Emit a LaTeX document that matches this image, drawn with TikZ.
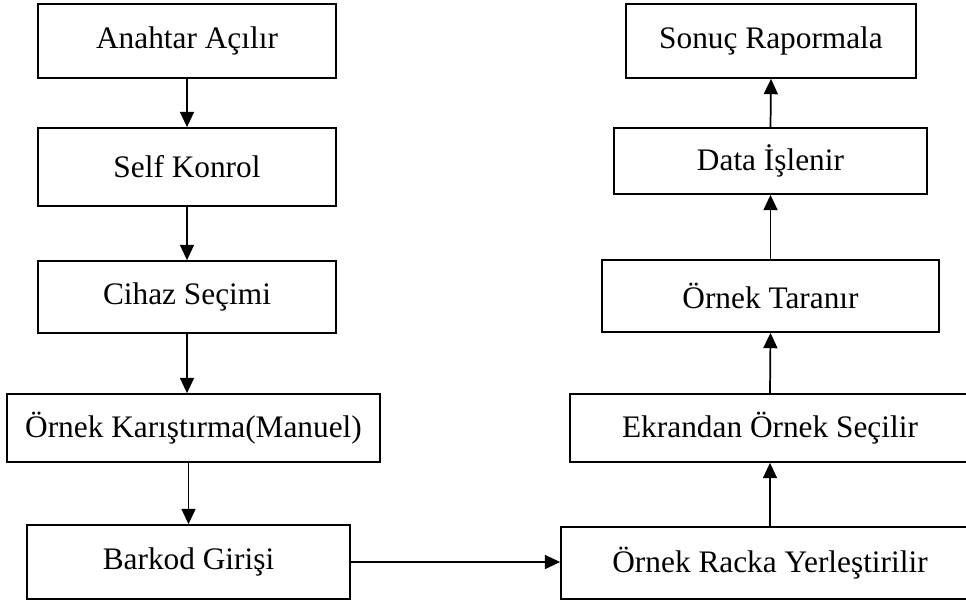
\documentclass[tikz,border=0pt]{standalone}
\usepackage{fontspec}
\setmainfont{Liberation Serif}
\usetikzlibrary{arrows.meta}
\begin{document}
\begin{tikzpicture}[x=0.75pt,y=-0.75pt,
  box/.style={draw=black,line width=1.3pt,inner sep=0pt,
    font=\fontsize{23.5}{28}\selectfont,text=black},
  conn/.style={line width=1.3pt,-{Triangle[length=11.5pt,width=10.5pt]}}]
\useasboundingbox (0,0) rectangle (966,601);
\clip (0,0) rectangle (966,601);
% left column
\node[box,minimum width=223.5pt,minimum height=55.5pt] (b1) at (187,41) {Anahtar Açılır};
\node[box,minimum width=223.5pt,minimum height=58.5pt] (b2) at (187,167) {Self Konrol};
\node[box,minimum width=223.5pt,minimum height=54pt] (b3) at (187,297) {Cihaz Seçimi};
\node[box,minimum width=279.75pt,minimum height=51pt] (b4) at (193.5,428) {Örnek Karıştırma(Manuel)};
\node[box,minimum width=242.25pt,minimum height=55.5pt] (b5) at (188.5,562) {Barkod Girişi};
% right column
\node[box,minimum width=217.5pt,minimum height=55.5pt] (r1) at (771,41) {Sonuç Rapormala};
\node[box,minimum width=234.75pt,minimum height=49.5pt] (r2) at (770.5,161) {Data İşlenir};
\node[box,minimum width=252.75pt,minimum height=54pt] (r3) at (770.5,296) {Örnek Taranır};
\node[box,minimum width=300pt,minimum height=51pt] (r4) at (770,428) {Ekrandan Örnek Seçilir};
\node[box,minimum width=313.5pt,minimum height=54pt] (r5) at (770,563) {Örnek Racka Yerleştirilir};
% connectors
\draw[conn] (b1.south) -- (b2.north);
\draw[conn] (b2.south) -- (b3.north);
\draw[conn] (b3.south) -- (b3.south |- b4.north);
\draw[conn] (b5.north |- b4.south) -- (b5.north);
\draw[conn] (b5.east) -- (b5.east -| r5.west);
\draw[conn] (r5.north) -- (r4.south);
\draw[conn] (r4.north) -- (r3.south);
\draw[conn] (r3.north) -- (r2.south);
\draw[conn] (r2.north) -- (r1.south);
\end{tikzpicture}
\end{document}
